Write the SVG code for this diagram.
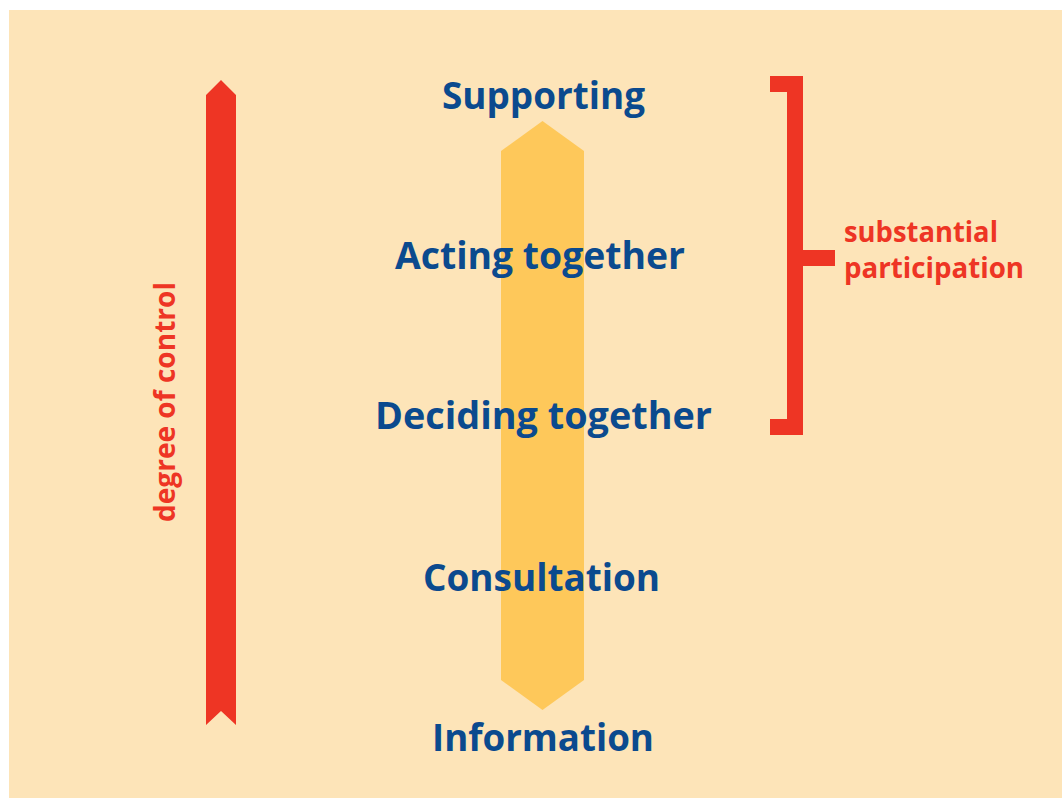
<svg xmlns="http://www.w3.org/2000/svg" width="1062" height="801" viewBox="0 0 1062 801">
<style>
.lbl{font-family:"Open Sans","Liberation Sans",sans-serif;font-weight:700;font-size:37px;fill:#0b4a8e;text-anchor:middle}
.red{font-family:"Open Sans","Liberation Sans",sans-serif;font-weight:700;font-size:29px;fill:#ee3524}
.redfill{fill:#ee3524}
</style>
<rect x="0" y="0" width="1062" height="801" fill="#ffffff"/>
<rect x="9" y="10" width="1053" height="788" fill="#fde4b8"/>
<g id="connectors">
<polygon id="control-arrow" class="redfill" points="206,95 221,80 236,95 236,725 221,711 206,725"/>
<polygon id="ladder-arrow" fill="#fec85a" points="501,151 542.5,121 584,151 584,680 542.5,710 501,680"/>
<g id="bracket" class="redfill">
<rect x="770" y="76" width="33" height="16"/>
<rect x="787" y="76" width="16" height="359"/>
<rect x="770" y="419" width="33" height="16"/>
<rect x="803" y="250" width="32" height="16"/>
</g>
</g>
<g id="supporting"><text class="lbl" x="543.5" y="109" textLength="203" lengthAdjust="spacingAndGlyphs">Supporting</text></g>
<g id="acting"><text class="lbl" x="540" y="269" textLength="290" lengthAdjust="spacingAndGlyphs">Acting together</text></g>
<g id="deciding"><text class="lbl" x="543.5" y="429" textLength="337" lengthAdjust="spacingAndGlyphs">Deciding together</text></g>
<g id="consultation"><text class="lbl" x="541.5" y="591" textLength="237" lengthAdjust="spacingAndGlyphs">Consultation</text></g>
<g id="information"><text class="lbl" x="543" y="751" textLength="222" lengthAdjust="spacingAndGlyphs">Information</text></g>
<g id="substantial">
<text class="red" x="844" y="242" textLength="154" lengthAdjust="spacingAndGlyphs">substantial</text>
<text class="red" x="844" y="278" textLength="180" lengthAdjust="spacingAndGlyphs">participation</text>
</g>
<g id="degree"><text class="red" transform="translate(175,402) rotate(-90)" text-anchor="middle" x="0" y="0" textLength="240" lengthAdjust="spacingAndGlyphs">degree of control</text></g>
</svg>
